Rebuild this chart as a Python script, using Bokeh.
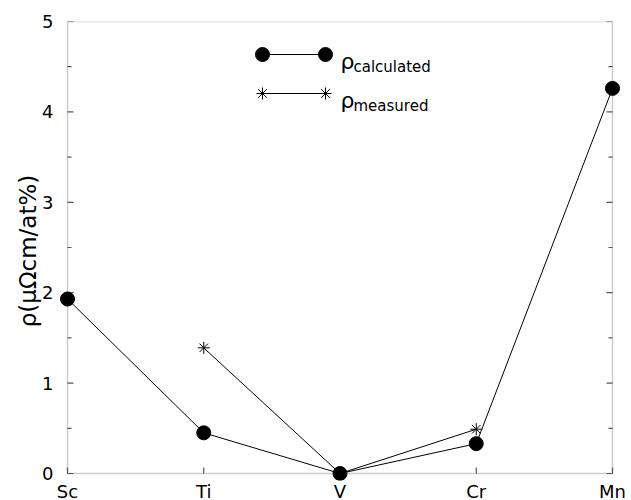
from bokeh.plotting import figure
from bokeh.models import Range1d, FixedTicker, BoxAnnotation
from bokeh.core.properties import value
from bokeh.embed import file_html
from bokeh.resources import INLINE

# ---- data ----
elements = ["Sc", "Ti", "V", "Cr", "Mn"]
calc_x = [0, 1, 2, 3, 4]
calc_rho = [1.93, 0.45, 0.0, 0.33, 4.26]
meas_x = [1, 2, 3]
meas_rho = [1.39, 0.0, 0.49]
y_ticks = [0, 1, 2, 3, 4, 5]
y_minor = [0.5, 1.5, 2.5, 3.5, 4.5]
legend_labels = ["calculated", "measured"]

FONT = "DejaVu Sans"
AXC = "#555555"

# layout (pixels)
BOX_W, BOX_H = 545, 452          # plotting box
PAD_X, PAD_B = 8, 7              # room so edge markers are not clipped
FW, FH = BOX_W + 2 * PAD_X, BOX_H + PAD_B
ux = BOX_W / (calc_x[-1] - calc_x[0])
uy = BOX_H / (y_ticks[-1] - y_ticks[0])

p = figure(frame_width=FW, frame_height=FH, output_backend="svg", toolbar_location=None,
           x_range=Range1d(calc_x[0] - PAD_X / ux, calc_x[-1] + PAD_X / ux),
           y_range=Range1d(y_ticks[0] - PAD_B / uy, y_ticks[-1]),
           min_border_left=59, min_border_right=11, min_border_top=21, min_border_bottom=19)
p.background_fill_color = "white"
p.border_fill_color = "white"
p.outline_line_color = None
p.grid.visible = False

# pixel coordinate system of the frame (origin bottom-left)
p.extra_x_ranges = {"px": Range1d(0, FW)}
p.extra_y_ranges = {"py": Range1d(0, FH)}

# box
p.add_layout(BoxAnnotation(left=calc_x[0], right=calc_x[-1], bottom=y_ticks[0], top=y_ticks[-1],
                           fill_alpha=0, line_color=AXC, line_width=1.5, level="underlay"))

# axes: labels only
xa = p.xaxis[0]
xa.ticker = FixedTicker(ticks=calc_x)
xa.major_label_overrides = {i: e for i, e in zip(calc_x, elements)}
ya = p.yaxis[0]
ya.ticker = FixedTicker(ticks=y_ticks)
ya.axis_label = "ρ(μΩcm/at%)"
for ax in (xa, ya):
    ax.axis_line_color = None
    ax.major_tick_line_color = None
    ax.minor_tick_line_color = None
    ax.major_tick_in = 0
    ax.major_tick_out = 0
    ax.major_label_text_font = FONT
    ax.major_label_text_font_size = "18px"
    ax.major_label_text_color = "black"
xa.major_label_text_font_size = "18px"
xa.major_label_standoff = 0
ya.major_label_standoff = 6
ya.axis_label_text_font = FONT
ya.axis_label_text_font_size = "23px"
ya.axis_label_text_font_style = "normal"
ya.axis_label_text_color = "black"
ya.axis_label_standoff = -2

# ticks (inward), left and right
left_px, right_px = PAD_X, PAD_X + BOX_W
n = len(y_ticks)
p.segment([left_px] * n, y_ticks, [left_px + 6] * n, y_ticks, x_range_name="px", line_color=AXC, line_width=1.2)
p.segment([right_px] * n, y_ticks, [right_px - 6] * n, y_ticks, x_range_name="px", line_color=AXC, line_width=1.2)
m = len(y_minor)
p.segment([left_px] * m, y_minor, [left_px + 4] * m, y_minor, x_range_name="px", line_color=AXC, line_width=1.2)
p.segment([right_px] * m, y_minor, [right_px - 4] * m, y_minor, x_range_name="px", line_color=AXC, line_width=1.2)
k = len(calc_x)
p.segment(calc_x, [PAD_B] * k, calc_x, [PAD_B + 6] * k, y_range_name="py", line_color=AXC, line_width=1.2)

# data series
p.line(calc_x, calc_rho, line_color="black", line_width=1)
p.scatter(calc_x, calc_rho, size=14, marker="circle", fill_color="black", line_color="black")
p.line(meas_x, meas_rho, line_color="black", line_width=1)
p.scatter(meas_x, meas_rho, size=12, marker="asterisk", line_color="black", line_width=1)

# legend in frame-pixel coordinates
top_img = 21
lx0, lx1 = 203, 266
rows = [FH - (54 - top_img), FH - (93 - top_img)]
p.line([lx0, lx1], [rows[0], rows[0]], x_range_name="px", y_range_name="py", line_color="black", line_width=1)
p.scatter([lx0, lx1], [rows[0], rows[0]], x_range_name="px", y_range_name="py", size=14,
          marker="circle", fill_color="black", line_color="black")
p.line([lx0, lx1], [rows[1], rows[1]], x_range_name="px", y_range_name="py", line_color="black", line_width=1)
p.scatter([lx0, lx1], [rows[1], rows[1]], x_range_name="px", y_range_name="py", size=12,
          marker="asterisk", line_color="black", line_width=1)
tx = 281
p.text([tx, tx], [r - 7 for r in rows], text=["ρ", "ρ"], x_range_name="px", y_range_name="py",
       text_font=value(FONT), text_font_size="22px", text_baseline="alphabetic", text_color="black")
p.text([tx + 13, tx + 13], [r - 12 for r in rows], text=legend_labels, x_range_name="px", y_range_name="py",
       text_font=value(FONT), text_font_size="15px", text_baseline="alphabetic", text_color="black")

open("out.html", "w").write(file_html(p, INLINE))
